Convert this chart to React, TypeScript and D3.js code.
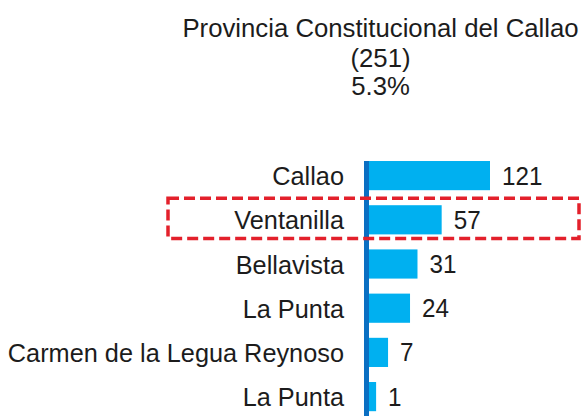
import React from "react";
import * as d3 from "d3";

const titleLines = ["Provincia Constitucional del Callao", "(251)", "5.3%"];
const categories = ["Callao", "Ventanilla", "Bellavista", "La Punta", "Carmen de la Legua Reynoso", "La Punta"];
const values = [121, 57, 31, 24, 7, 1];
const highlighted = [1];

const W = 584;
const H = 416;
const axisX = 364;
const FONT = "'Liberation Sans', Arial, sans-serif";

export default function App() {
  const y = d3
    .scaleBand<number>()
    .domain(d3.range(categories.length))
    .range([153.5, 418.7])
    .paddingInner(0.34)
    .paddingOuter(0.17);

  const w = d3.scalePow().exponent(0.7).domain([0, d3.max(values) as number]).range([8, 126]);

  const titleBaselines = [37, 67, 95];

  return (
    <svg
      width={W}
      height={H}
      style={{ position: "absolute", left: 0, top: 0, background: "#fff" }}
      fontFamily={FONT}
    >
      <g fill="#1c1c1c" textAnchor="middle">
        {titleLines.map((t, i) => (
          <text key={i} transform={`translate(380.5,${titleBaselines[i]}) scale(0.99,1)`} fontSize={26}>
            {t}
          </text>
        ))}
      </g>

      {values.map((v, i) => {
        const cy = (y(i) as number) + y.bandwidth() / 2;
        return (
          <g key={i}>
            <rect x={axisX} y={y(i)} width={w(v)} height={y.bandwidth()} fill="#00b0f0" />
            <text
              transform={`translate(344,${cy}) scale(0.955,1)`}
              dy="0.36em"
              textAnchor="end"
              fontSize={26.5}
              fill="#1c1c1c"
            >
              {categories[i]}
            </text>
            <text
              transform={`translate(${axisX + w(v) + 12},${cy}) scale(0.97,1)`}
              dy="0.36em"
              fontSize={25}
              fill="#1c1c1c"
            >
              {v}
            </text>
          </g>
        );
      })}

      <line
        x1={axisX + 2.5}
        x2={axisX + 2.5}
        y1={(y(0) as number)}
        y2={H}
        stroke="#0a6fc2"
        strokeWidth={5}
      />

      {highlighted.map((i) => (
        <rect
          key={i}
          x={168}
          y={(y(i) as number) - 7}
          width={411}
          height={y.bandwidth() + 11}
          fill="none"
          stroke="#e3202b"
          strokeWidth={3.5}
          strokeDasharray="11 5"
        />
      ))}
    </svg>
  );
}
